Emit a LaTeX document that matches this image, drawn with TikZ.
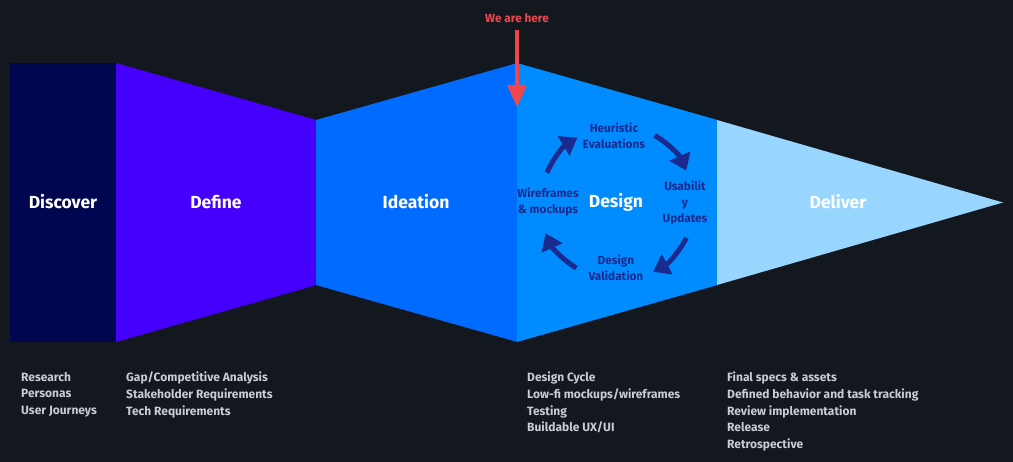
\documentclass[tikz,border=0pt]{standalone}
\usepackage{fontspec}
\setmainfont{Fira Sans}
\usetikzlibrary{arrows.meta}
\definecolor{bg}{HTML}{13181F}
\definecolor{cdisc}{HTML}{000650}
\definecolor{cdef}{HTML}{4400FA}
\definecolor{cide}{HTML}{006CFF}
\definecolor{cdes}{HTML}{008CFF}
\definecolor{cdel}{HTML}{99D6FF}
\definecolor{cyc}{HTML}{1B2A8E}
\definecolor{note}{HTML}{C9CCD1}
\definecolor{redarrow}{HTML}{F0464C}
\tikzset{
  phase/.style={text=white, font=\bfseries\fontsize{17.5}{20}\selectfont},
  cyctext/.style={text=cyc, font=\bfseries\fontsize{11.8}{16}\selectfont, align=center},
  cycarrow/.style={draw=cyc, line width=5pt, -{Triangle[length=16pt,width=22pt]}},
  notes/.style={text=note, anchor=north west, align=left, inner sep=0pt, font=\bfseries\fontsize{12}{16.6}\selectfont},
}
\begin{document}
\begin{tikzpicture}[x=1pt,y=-1pt]
\fill[bg] (0,0) rectangle (1013,462);
\useasboundingbox (0,0) rectangle (1013,462);
% phases
\fill[cdisc] (10,63) -- (116.5,63) -- (116.5,342) -- (10,342) -- cycle;
\fill[cdef] (116,63) -- (316.5,120) -- (316.5,285) -- (116,342) -- cycle;
\fill[cide] (316,120) -- (517.5,63) -- (517.5,342) -- (316,285) -- cycle;
\fill[cdes] (517,63) -- (717.5,120) -- (717.5,285) -- (517,342) -- cycle;
\fill[cdel] (717,120) -- (1003,202.5) -- (717,285) -- cycle;
% labels
\node[phase] (discover) at (63,202) {Discover};
\node[phase] (define) at (216,202) {Define};
\node[phase] (ideation) at (416,202) {Ideation};
\node[phase] (design) at (616,202) {Design};
\node[phase] (deliver) at (838,202) {Deliver};
% cycle
\node[cyctext] (heur) at (614,136) {Heuristic\\Evaluations};
\node[cyctext] (usab) at (685,203) {Usabilit\\y\\Updates};
\node[cyctext] (valid) at (616,268) {Design\\Validation};
\node[cyctext] (wire) at (548,202) {Wireframes\\\& mockups};
\coordinate (c) at (616,202);
\draw[cycarrow] (c) ++(157:75pt) arc[start angle=157, end angle=121, radius=75pt];
\draw[cycarrow] (c) ++(60:77pt) arc[start angle=60, end angle=24, radius=77pt];
\draw[cycarrow] (c) ++(-27:79pt) arc[start angle=-27, end angle=-62, radius=79pt];
\draw[cycarrow] (c) ++(-121:77pt) arc[start angle=-121, end angle=-156, radius=77pt];
% we are here
\node[text=redarrow, font=\bfseries\fontsize{11.8}{13}\selectfont] (here) at (517,18) {We are here};
\coordinate (hereend) at (517,107);
\draw[redarrow, line width=3.5pt, -{Triangle[length=22pt,width=19pt]}] (517,30) -- (hereend);
% notes
\node[notes] (n1) at (21,372) {Research\\Personas\\User Journeys};
\node[notes] (n2) at (126,372) {Gap/Competitive Analysis\\Stakeholder Requirements\\Tech Requirements};
\node[notes] (n3) at (527,372) {Design Cycle\\Low-fi mockups/wireframes\\Testing\\Buildable UX/UI};
\node[notes] (n4) at (727,372) {Final specs \& assets\\Defined behavior and task tracking\\Review implementation\\Release\\Retrospective};
\end{tikzpicture}
\end{document}
